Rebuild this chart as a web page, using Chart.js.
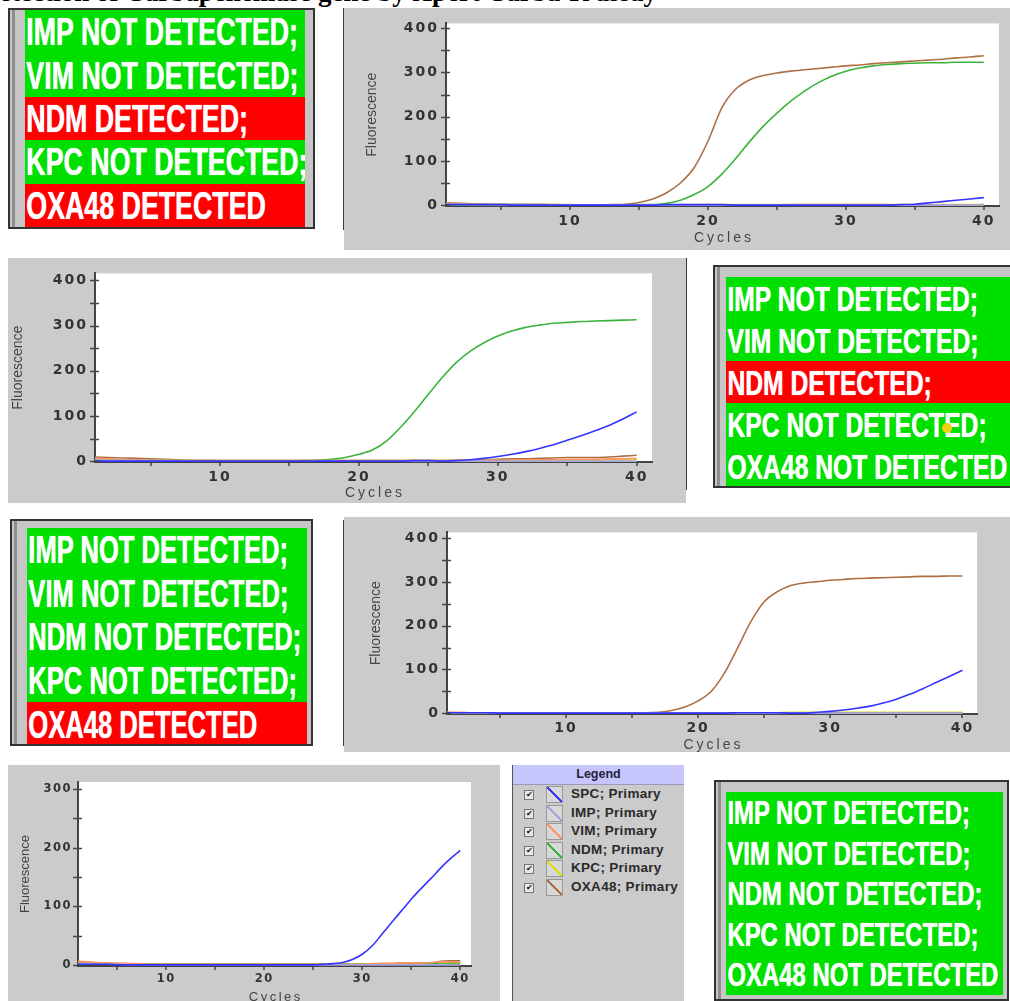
<!DOCTYPE html>
<html>
<head>
<meta charset="utf-8">
<title>Xpert Carba-R</title>
<script src="https://cdn.jsdelivr.net/npm/chart.js@4.4.1/dist/chart.umd.min.js"></script>
<style>
  body { margin:0; width:1010px; height:1001px; position:relative; overflow:hidden; background:#fff; }
  .panel { position:absolute; background:#cbcbcb; overflow:hidden; }
  .panel canvas { position:absolute; left:0; top:0; }
  .vline { position:absolute; width:1px; background:#3a3a3a; }
  .status { position:absolute; box-sizing:border-box; border:2px solid #333; background:#c6c6c6; overflow:hidden; }
  .status .edge { position:absolute; top:0; bottom:0; width:3px; background:#8e8e8e; }
  .status .rows { position:absolute; }
  .status .row { display:flex; align-items:center; overflow:hidden; white-space:nowrap; }
  .status .row span { display:inline-block; padding-left:2px; line-height:1; color:#fff; transform-origin:0 50%; font-weight:bold;
    font-family:"Liberation Sans Narrow","Liberation Sans",Arial,sans-serif; text-shadow:0 0 1px #fff; }
  #caption { position:absolute; right:353px; top:-21px; font:bold 27px/27px "Liberation Serif","Times New Roman",serif; color:#000; white-space:nowrap; }
  #legend { position:absolute; left:512px; top:765px; width:171px; height:236px; background:#cbcbcb; border-left:1px solid #555; font-family:"Liberation Sans",Arial,sans-serif; }
  #legend .head { height:19px; background:#c6c6fc; border-bottom:1px solid #9a9ab8; text-align:center; font:bold 12.5px "Liberation Sans",Arial,sans-serif; line-height:19px; color:#22223a; }
  #legend .item { position:absolute; left:0; height:18px; width:171px; }
  #legend .chk { position:absolute; left:11px; top:4px; width:8px; height:8px; border:1px solid #777; background:#e6e6e6; font-size:8px; line-height:8px; text-align:center; color:#111; }
  #legend .ico { position:absolute; left:33px; top:0px; width:15px; height:15px; border:1px solid #999; background:#d8d8d8; }
  #legend .txt { position:absolute; left:58px; top:0px; font:bold 13.5px "Liberation Sans",Arial,sans-serif; letter-spacing:0.3px; color:#2a2a2a; }
  #dot { position:absolute; left:942px; top:423px; width:10px; height:10px; border-radius:50%; background:#f2cf10; }
</style>
</head>
<body>
<div id="caption">Detection of Carbapenemase gene by Xpert Carba-R assay</div>

<div class="panel" id="chart1" style="left:344px;top:8px;width:666px;height:242px"></div>
<div class="vline" style="left:343px;top:8px;height:222px"></div>
<div class="panel" id="chart2" style="left:8px;top:258px;width:678px;height:245px"></div>
<div class="vline" style="left:686px;top:258px;height:232px"></div>
<div class="panel" id="chart3" style="left:344px;top:517px;width:666px;height:235px"></div>
<div class="vline" style="left:343px;top:520px;height:226px"></div>
<div class="panel" id="chart4" style="left:8px;top:765px;width:492px;height:236px"></div>
<div id="legend"><div class="head">Legend</div></div>

<script>
// cycles on the x axis
const cycles = [1,2,3,4,5,6,7,8,9,10,11,12,13,14,15,16,17,18,19,20,21,22,23,24,25,26,27,28,29,30,31,32,33,34,35,36,37,38,39,40]

const seriesNames = ['SPC', 'IMP', 'VIM', 'NDM', 'KPC', 'OXA48']
const seriesColors = ['#3434ff', '#a4a4dc', '#ff9462', '#3cb43c', '#dede10', '#ad7044']

// sample 1 : NDM + OXA48 detected
const c1SPC   = [1,1,1,1,1,0,0,0,0,0, 0,0,0,0,0,0,1,1,1,1, 1,0,0,0,0,0,0,0,0,0, 0,0,0,1,2,5,8,11,14,17]
const c1IMP   = [2,2,1,1,1,1,1,0,0,0, 0,0,0,0,0,0,0,0,0,0, 0,0,0,0,0,0,0,0,0,0, 0,0,0,0,0,0,0,0,0,1]
const c1VIM   = [4,3,2,2,1,1,1,1,0,0, 0,0,0,0,0,0,0,0,0,0, 0,0,0,0,0,1,1,1,1,1, 1,1,1,0,0,0,0,0,0,0]
const c1NDM   = [1,1,1,1,1,1,1,1,0,0, 0,0,0,0,1,1,4,11,24,42, 70,105,143,178,208,235,258,277,292,303, 310,315,318,320,321,322,322,323,323,323]
const c1KPC   = [1,1,1,1,1,1,1,1,1,1, 0,0,0,0,0,0,0,0,1,1, 1,1,1,1,1,1,1,1,1,1, 1,1,1,1,1,1,1,1,1,1]
const c1OXA48 = [5,4,3,2,1,1,1,1,1,0, 0,0,1,2,6,14,28,50,85,145, 220,262,283,293,299,303,306,309,312,315, 317,320,322,324,326,328,330,333,335,338]

// sample 2 : NDM detected
const c2SPC   = [0,0,0,0,0,0,0,0,0,0, 0,0,0,0,0,0,0,0,0,0, 0,0,0,1,1,0,1,3,6,10, 15,21,28,36,46,56,67,79,93,109]
const c2IMP   = [3,2,2,1,1,1,0,0,0,0, 0,0,0,0,0,0,0,0,0,0, 0,0,0,0,0,0,0,0,0,0, 0,0,0,0,0,0,0,0,0,0]
const c2VIM   = [6,5,4,3,2,2,1,1,1,1, 1,1,1,1,1,1,1,1,1,1, 1,1,1,1,1,1,1,1,2,2, 2,3,3,3,4,4,4,5,5,6]
const c2NDM   = [1,1,1,1,1,1,1,0,0,0, 0,0,0,0,0,1,2,4,8,15, 25,45,75,110,148,185,218,243,262,277, 288,296,301,305,307,309,310,311,312,313]
const c2KPC   = [4,3,3,2,2,1,1,1,1,1, 1,1,1,1,1,1,1,1,1,1, 1,1,1,1,1,1,1,1,1,1, 1,1,1,2,2,2,2,3,3,4]
const c2OXA48 = [9,8,7,6,5,4,3,2,2,1, 1,1,1,1,1,1,1,1,1,1, 1,1,1,1,1,1,2,2,3,4, 5,5,6,7,8,8,8,9,11,13]

// sample 3 : OXA48 detected
const c3SPC   = [1,1,1,1,0,0,0,0,0,0, 0,0,0,0,0,0,0,0,0,0, 0,0,1,1,1,1,0,0,2,4, 7,11,16,23,32,43,56,70,84,98]
const c3IMP   = [2,1,1,1,0,0,0,0,0,0, 0,0,0,0,0,0,0,0,0,0, 0,0,0,0,0,0,0,0,0,0, 0,0,0,0,0,0,0,0,0,0]
const c3VIM   = [2,2,1,1,1,1,1,1,1,1, 1,1,1,1,1,1,1,1,1,1, 1,1,1,1,1,1,1,1,1,1, 1,1,1,1,1,1,1,1,1,1]
const c3NDM   = [1,1,1,1,0,0,0,0,0,0, 0,0,0,0,0,0,0,0,0,0, 0,0,0,0,0,0,0,0,0,0, 1,1,0,0,0,0,0,0,0,0]
const c3KPC   = [1,1,1,1,1,0,0,0,0,0, 1,1,1,1,1,0,0,0,0,0, 0,0,0,0,0,1,2,2,2,2, 2,2,2,2,2,2,2,2,2,2]
const c3OXA48 = [1,1,1,1,1,1,1,1,1,1, 1,1,1,1,1,1,2,6,14,28, 50,92,150,210,255,278,292,298,301,304, 306,308,309,310,311,312,313,313,314,314]

// sample 4 : nothing detected, SPC only
const c4SPC   = [1,1,1,1,0,0,0,0,0,0, 0,0,0,0,0,0,0,0,0,0, 0,0,0,0,0,1,2,4,9,18, 32,52,72,92,112,130,147,165,181,195]
const c4IMP   = [2,2,1,1,1,0,0,0,0,0, 0,0,0,0,0,0,0,0,0,0, 0,0,0,0,0,0,0,0,0,0, 0,0,0,0,0,0,0,0,0,0]
const c4VIM   = [6,5,4,3,3,2,2,1,1,1, 1,1,1,1,1,1,1,1,1,1, 1,1,1,1,1,1,1,1,1,1, 2,2,2,3,3,3,4,5,5,5]
const c4NDM   = [2,1,1,1,1,1,1,1,1,1, 1,1,1,1,1,1,1,1,1,1, 1,1,1,1,1,1,1,1,1,1, 1,1,1,1,1,1,2,3,3,3]
const c4KPC   = [2,2,1,1,1,1,1,1,1,1, 1,1,1,1,1,1,1,1,1,1, 1,1,1,1,1,1,1,1,1,1, 1,1,1,1,1,1,1,1,2,2]
const c4OXA48 = [5,4,3,3,2,2,1,1,1,1, 1,1,1,1,1,1,1,1,1,1, 1,1,1,1,1,1,1,1,1,1, 1,2,2,3,3,3,3,6,7,7]

// status panels
const box1Text = ['IMP NOT DETECTED;', 'VIM NOT DETECTED;', 'NDM DETECTED;', 'KPC NOT DETECTED;', 'OXA48 DETECTED']
const box1Hit  = [false, false, true, false, true]
const box2Text = ['IMP NOT DETECTED;', 'VIM NOT DETECTED;', 'NDM DETECTED;', 'KPC NOT DETECTED;', 'OXA48 NOT DETECTED']
const box2Hit  = [false, false, true, false, false]
const box3Text = ['IMP NOT DETECTED;', 'VIM NOT DETECTED;', 'NDM NOT DETECTED;', 'KPC NOT DETECTED;', 'OXA48 DETECTED']
const box3Hit  = [false, false, false, false, true]
const box4Text = ['IMP NOT DETECTED;', 'VIM NOT DETECTED;', 'NDM NOT DETECTED;', 'KPC NOT DETECTED;', 'OXA48 NOT DETECTED']
const box4Hit  = [false, false, false, false, false]

const axisColor = '#444'

// white plot area, letter spacing for the tick labels
const plotBg = {
    id: 'plotBg',
    beforeDraw(chart) {
        const a = chart.chartArea
        const ctx = chart.ctx
        ctx.letterSpacing = '0px'
        ctx.save()
        ctx.fillStyle = '#fff'
        ctx.fillRect(a.left, a.top, a.right - a.left, a.bottom - a.top)
        ctx.restore()
    },
    afterDatasetsDraw(chart) {
        // tick labels have z = 1 so they come after this
        chart.ctx.letterSpacing = chart.options.plugins.plotBg.spacing
    },
    afterDraw(chart) {
        chart.ctx.letterSpacing = '0px'
    }
}

// small tick marks + the two axis titles
const axisTicks = {
    id: 'axisTicks',
    afterDraw(chart, args, o) {
        const ctx = chart.ctx
        const xs = chart.scales.x, ys = chart.scales.y
        ctx.save()
        ctx.strokeStyle = axisColor
        ctx.lineWidth = 1.5
        ctx.beginPath()
        ys.ticks.forEach(t => {
            if (t.value < 0 || t.value % 50 !== 0) return
            const p = Math.round(ys.getPixelForValue(t.value)) + 0.5
            ctx.moveTo(xs.left - 5, p)
            ctx.lineTo(xs.left + 4, p)
        })
        xs.ticks.forEach(t => {
            if (t.value % 5 !== 0) return
            const p = Math.round(xs.getPixelForValue(t.value))
            ctx.moveTo(p, ys.bottom)
            ctx.lineTo(p, ys.bottom + 4)
        })
        ctx.stroke()

        ctx.fillStyle = '#454545'
        ctx.textAlign = 'center'
        ctx.textBaseline = 'middle'
        ctx.font = o.size + 'px "Liberation Sans", Arial, sans-serif'
        ctx.letterSpacing = o.xSpacing
        ctx.fillText('Cycles', (xs.left + xs.right) / 2 + parseFloat(o.xSpacing) / 2, o.xTitleY)
        ctx.letterSpacing = '0px'
        ctx.translate(o.yTitleX, (ys.top + ys.bottom) / 2)
        ctx.rotate(-Math.PI / 2)
        ctx.fillText('Fluorescence', 0, 0)
        ctx.restore()
    }
}

function make_chart(id, sets, L) {
    const canvas = document.createElement('canvas')
    canvas.width = L.w
    canvas.height = L.h
    document.getElementById(id).appendChild(canvas)
    let ctx = canvas.getContext('2d')
    const datasets = sets.map((arr, i) => ({
        label: seriesNames[i] + '; Primary',
        data: cycles.map((c, j) => ({x: c, y: arr[j]})),
        borderColor: seriesColors[i],
        borderWidth: 1.6,
        pointRadius: 0,
        cubicInterpolationMode: 'monotone',
        fill: false
    }))
    const tickFont = {family: 'DejaVu Sans', size: L.tick, weight: 'bold'}
    return new Chart(ctx, {
        type: 'line',
        data: {datasets: datasets},
        options: {
            responsive: false,
            animation: false,
            events: [],
            layout: {padding: {top: L.padTop, right: L.padRight, left: 0, bottom: 0}},
            plugins: {
                legend: {display: false},
                tooltip: {enabled: false},
                plotBg: {spacing: L.spacing},
                axisTicks: {size: L.title, xSpacing: L.xTitleSpacing, xTitleY: L.xTitleY, yTitleX: L.yTitleX}
            },
            scales: {
                x: {
                    type: 'linear',
                    min: 1,
                    max: 41.1,
                    grid: {display: false, drawTicks: false},
                    border: {color: axisColor, width: 2},
                    ticks: {
                        stepSize: 5, includeBounds: false, autoSkip: false, maxRotation: 0,
                        padding: L.xTickPad, z: 1, color: '#333', font: tickFont,
                        callback: v => v % 10 === 0 ? String(v) : ''
                    },
                    afterFit: s => { s.height = L.xAxisH }
                },
                y: {
                    min: -2,
                    max: L.yMax,
                    grid: {display: false, drawTicks: false},
                    border: {color: axisColor, width: 2},
                    ticks: {
                        stepSize: 50, includeBounds: false, autoSkip: false,
                        padding: L.yTickPad, z: 1, color: '#333', font: tickFont,
                        callback: v => v % 100 === 0 ? String(v) : ''
                    },
                    afterFit: s => { s.width = L.yAxisW }
                }
            }
        },
        plugins: [plotBg, axisTicks]
    })
}

function make_status(texts, hits, L) {
    const box = document.createElement('div')
    box.className = 'status'
    Object.assign(box.style, {left: L.x + 'px', top: L.y + 'px', width: L.w + 'px', height: L.h + 'px'})
    document.body.appendChild(box)
    const edge = document.createElement('div')
    edge.className = 'edge'
    edge.style.left = L.edge + 'px'
    box.appendChild(edge)
    const rows = document.createElement('div')
    rows.className = 'rows'
    Object.assign(rows.style, {left: (L.rx - L.x - 2) + 'px', top: (L.ry - L.y - 2) + 'px', width: L.rw + 'px'})
    box.appendChild(rows)
    const spans = []
    texts.forEach((t, i) => {
        const row = document.createElement('div')
        row.className = 'row'
        row.style.height = L.rh + 'px'
        row.style.background = hits[i] ? '#ff0000' : '#00e000'
        const s = document.createElement('span')
        s.textContent = t
        s.style.fontSize = L.font + 'px'
        row.appendChild(s)
        rows.appendChild(row)
        spans.push(s)
    })
    const k = L.fit / spans[0].getBoundingClientRect().width
    spans.forEach(s => s.style.transform = 'scaleX(' + k + ')')
}

function make_legend() {
    const lg = document.getElementById('legend')
    seriesNames.forEach((name, i) => {
        const it = document.createElement('div')
        it.className = 'item'
        it.style.top = (21 + i * 18.5) + 'px'
        const c = seriesColors[i]
        it.innerHTML = '<div class="chk">\u2714</div>' +
            '<div class="ico" style="background:linear-gradient(to top right, #d8d8d8 44%, ' + c + ' 44%, ' + c + ' 56%, #d8d8d8 56%)"></div>' +
            '<div class="txt">' + name + '; Primary</div>'
        lg.appendChild(it)
    })
}

make_chart('chart1', [c1SPC, c1IMP, c1VIM, c1NDM, c1KPC, c1OXA48],
    {w: 666, h: 242, yAxisW: 102, xAxisH: 44, padTop: 12, padRight: 11, yMax: 411,
     tick: 14, spacing: '2px', yTickPad: 7, xTickPad: 7,
     title: 14, xTitleSpacing: '3px', xTitleY: 230, yTitleX: 28})
make_chart('chart2', [c2SPC, c2IMP, c2VIM, c2NDM, c2KPC, c2OXA48],
    {w: 678, h: 245, yAxisW: 87, xAxisH: 41, padTop: 15, padRight: 34, yMax: 415.5,
     tick: 14, spacing: '2px', yTickPad: 7, xTickPad: 7,
     title: 14, xTitleSpacing: '3px', xTitleY: 235, yTitleX: 10})
make_chart('chart3', [c3SPC, c3IMP, c3VIM, c3NDM, c3KPC, c3OXA48],
    {w: 666, h: 235, yAxisW: 103, xAxisH: 38, padTop: 15, padRight: 33, yMax: 413.7,
     tick: 14, spacing: '2px', yTickPad: 7, xTickPad: 6,
     title: 14, xTitleSpacing: '3px', xTitleY: 228, yTitleX: 32})
make_chart('chart4', [c4SPC, c4IMP, c4VIM, c4NDM, c4KPC, c4OXA48],
    {w: 492, h: 240, yAxisW: 70, xAxisH: 39, padTop: 17, padRight: 29, yMax: 311.8,
     tick: 11.5, spacing: '1.5px', yTickPad: 6, xTickPad: 6,
     title: 13, xTitleSpacing: '2.5px', xTitleY: 232, yTitleX: 17})

make_status(box1Text, box1Hit, {x: 8, y: 8, w: 307, h: 221, edge: 2, rx: 25, ry: 10, rw: 280, rh: 43.4, font: 39, fit: 273})
make_status(box2Text, box2Hit, {x: 713, y: 265, w: 310, h: 223, edge: 2, rx: 726, ry: 277, rw: 300, rh: 42, font: 35, fit: 252})
make_status(box3Text, box3Hit, {x: 10, y: 519, w: 303, h: 227, edge: 2, rx: 27, ry: 528, rw: 280, rh: 43.6, font: 39, fit: 261})
make_status(box4Text, box4Hit, {x: 714, y: 780, w: 295, h: 221, edge: 2, rx: 726, ry: 792, rw: 277, rh: 40.5, font: 34, fit: 244})
make_legend()

const dot = document.createElement('div')
dot.id = 'dot'
document.body.appendChild(dot)
</script>
</body>
</html>
